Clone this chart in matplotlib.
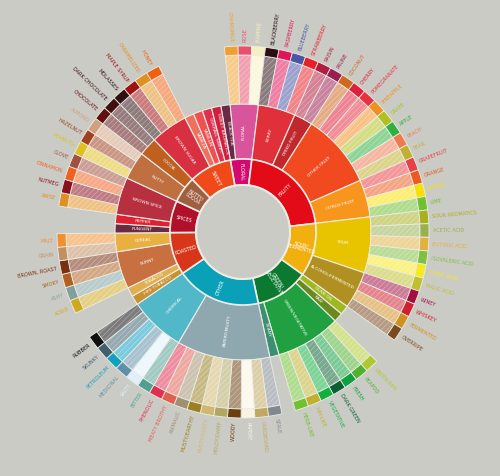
import numpy as np
import matplotlib
matplotlib.use("Agg")
import matplotlib.pyplot as plt
from matplotlib.patches import Wedge
from matplotlib.colors import to_rgb

# level 1: (name, colour)
tier1 = [
    ("FLORAL", "#d4086e"), ("FRUITY", "#e30b17"), ("SOUR/\nFERMENTED", "#f2b00f"),
    ("GREEN/\nVEGETATIVE", "#0b7a30"), ("OTHER", "#0aa0b8"), ("ROASTED", "#d8361a"),
    ("SPICES", "#b0102a"), ("NUTTY/\nCOCOA", "#a06040"), ("SWEET", "#f04a1a"),
]
# level 2: (name, parent, colour)
tier2 = [
    ("BLACK TEA", "FLORAL", "#6b2a48"), ("FLORAL", "FLORAL", "#d9549a"),
    ("BERRY", "FRUITY", "#e0303a"), ("DRIED FRUIT", "FRUITY", "#c0282e"),
    ("OTHER FRUIT", "FRUITY", "#f24a20"), ("CITRUS FRUIT", "FRUITY", "#f8951d"),
    ("SOUR", "SOUR/\nFERMENTED", "#e8c400"), ("ALCOHOL/FERMENTED", "SOUR/\nFERMENTED", "#b09020"),
    ("OLIVE OIL", "GREEN/\nVEGETATIVE", "#a0b820"), ("RAW", "GREEN/\nVEGETATIVE", "#6a8a20"),
    ("GREEN/VEGETATIVE", "GREEN/\nVEGETATIVE", "#20a040"), ("BEANY", "GREEN/\nVEGETATIVE", "#3a9070"),
    ("PAPERY/MUSTY", "OTHER", "#8fa8b0"), ("CHEMICAL", "OTHER", "#50b8c8"),
    ("PIPE TOBACCO", "ROASTED", "#c89030"), ("TOBACCO", "ROASTED", "#e0b050"),
    ("BURNT", "ROASTED", "#c87040"), ("CEREAL", "ROASTED", "#e8b040"),
    ("PUNGENT", "SPICES", "#6a2a40"), ("PEPPER", "SPICES", "#e02030"),
    ("BROWN SPICE", "SPICES", "#b83040"),
    ("NUTTY", "NUTTY/\nCOCOA", "#c07040"), ("COCOA", "NUTTY/\nCOCOA", "#c06020"),
    ("BROWN SUGAR", "SWEET", "#d83040"), ("VANILLA", "SWEET", "#f07060"),
    ("VANILLIN", "SWEET", "#f05050"), ("OVERALL SWEET", "SWEET", "#e03050"),
    ("SWEET AROMATICS", "SWEET", "#d02040"),
]
# level 3: (name, parent, colour)
tier3 = [
    ("CHAMOMILE", "FLORAL", "#f0a030"), ("ROSE", "FLORAL", "#e8506e"), ("JASMINE", "FLORAL", "#f5f0c0"),
    ("BLACKBERRY", "BERRY", "#2a0f14"), ("RASPBERRY", "BERRY", "#e0155a"),
    ("BLUEBERRY", "BERRY", "#4a56a8"), ("STRAWBERRY", "BERRY", "#e8202a"),
    ("RAISIN", "DRIED FRUIT", "#b01e40"), ("PRUNE", "DRIED FRUIT", "#9a1e50"),
    ("COCONUT", "OTHER FRUIT", "#d06820"), ("CHERRY", "OTHER FRUIT", "#e0203a"),
    ("POMEGRANATE", "OTHER FRUIT", "#e83040"), ("PINEAPPLE", "OTHER FRUIT", "#f09020"),
    ("GRAPE", "OTHER FRUIT", "#b0c020"), ("APPLE", "OTHER FRUIT", "#30b040"),
    ("PEACH", "OTHER FRUIT", "#f07a50"), ("PEAR", "OTHER FRUIT", "#c0b030"),
    ("GRAPEFRUIT", "CITRUS FRUIT", "#e84048"), ("ORANGE", "CITRUS FRUIT", "#ec5a20"),
    ("LEMON", "CITRUS FRUIT", "#f8e000"), ("LIME", "CITRUS FRUIT", "#70c030"),
    ("SOUR AROMATICS", "SOUR", "#a8b020"), ("ACETIC ACID", "SOUR", "#98b050"),
    ("BUTYRIC ACID", "SOUR", "#e0b040"), ("ISOVALERIC ACID", "SOUR", "#80c040"),
    ("CITRIC ACID", "SOUR", "#f8e820"), ("MALIC ACID", "SOUR", "#c0c030"),
    ("WINEY", "ALCOHOL/FERMENTED", "#a01040"), ("WHISKEY", "ALCOHOL/FERMENTED", "#d02030"),
    ("FERMENTED", "ALCOHOL/FERMENTED", "#d09020"), ("OVERRIPE", "ALCOHOL/FERMENTED", "#7a4a20"),
    ("UNDER-RIPE", "GREEN/VEGETATIVE", "#b0c830"), ("PEAPOD", "GREEN/VEGETATIVE", "#50b030"),
    ("FRESH", "GREEN/VEGETATIVE", "#10a040"), ("DARK GREEN", "GREEN/VEGETATIVE", "#0a6030"),
    ("VEGETATIVE", "GREEN/VEGETATIVE", "#10b040"), ("HAY-LIKE", "GREEN/VEGETATIVE", "#c0b030"),
    ("HERB-LIKE", "GREEN/VEGETATIVE", "#70c030"),
    ("STALE", "PAPERY/MUSTY", "#808890"), ("CARDBOARD", "PAPERY/MUSTY", "#c0a860"),
    ("PAPERY", "PAPERY/MUSTY", "#f8f4e0"), ("WOODY", "PAPERY/MUSTY", "#6a4010"),
    ("MOLDY/DAMP", "PAPERY/MUSTY", "#b0a860"), ("MUSTY/DUSTY", "PAPERY/MUSTY", "#d0b870"),
    ("MUSTY/EARTHY", "PAPERY/MUSTY", "#9a8020"), ("ANIMALIC", "PAPERY/MUSTY", "#a09070"),
    ("MEATY BROTHY", "PAPERY/MUSTY", "#e06050"), ("PHENOLIC", "PAPERY/MUSTY", "#e03050"),
    ("BITTER", "CHEMICAL", "#50a090"), ("SALTY", "CHEMICAL", "#e0f0f8"),
    ("MEDICINAL", "CHEMICAL", "#6090a8"), ("PETROLEUM", "CHEMICAL", "#10a0c0"),
    ("SKUNKY", "CHEMICAL", "#406070"), ("RUBBER", "CHEMICAL", "#101010"),
    ("ACRID", "BURNT", "#d0a820"), ("ASHY", "BURNT", "#80a0a0"),
    ("SMOKY", "BURNT", "#b06020"), ("BROWN, ROAST", "BURNT", "#7a3010"),
    ("GRAIN", "CEREAL", "#c09060"), ("MALT", "CEREAL", "#f09030"),
    ("ANISE", "BROWN SPICE", "#e09020"), ("NUTMEG", "BROWN SPICE", "#8a1020"),
    ("CINNAMON", "BROWN SPICE", "#f06020"), ("CLOVE", "BROWN SPICE", "#a05040"),
    ("PEANUTS", "NUTTY", "#e0c020"), ("HAZELNUT", "NUTTY", "#a04020"), ("ALMOND", "NUTTY", "#d0a080"),
    ("CHOCOLATE", "COCOA", "#601010"), ("DARK CHOCOLATE", "COCOA", "#401010"),
    ("MOLASSES", "BROWN SUGAR", "#301010"), ("MAPLE SYRUP", "BROWN SUGAR", "#a01010"),
    ("CARAMELIZED", "BROWN SUGAR", "#e09020"), ("HONEY", "BROWN SUGAR", "#f06010"),
]

BG = "#cbcbc5"
EDGE = "#ecece6"
cx, cy = 243, 244
R0, R1, R2, R3, R4 = 47, 73, 128, 177, 186
start = -10.0  # degrees clockwise from top

plt.rcParams["hatch.linewidth"] = 0.3


def tint(c, f=0.45):
    r = np.array(to_rgb(c))
    return tuple(r + (1 - r) * f)


fig = plt.figure(figsize=(5.0, 4.76), dpi=100)
fig.patch.set_facecolor(BG)
ax = fig.add_axes([0, 0, 1, 1])
ax.set_xlim(0, 500)
ax.set_ylim(0, 476)
ax.set_aspect("equal")
ax.axis("off")

# weights: each level-2 node counts its children, or 1 if none
kids = {}
for name, par, col in tier3:
    kids.setdefault(par, []).append((name, col))
w2 = [max(1, len(kids.get(n, []))) for n, p, c in tier2]
total = sum(w2)
deg = 360.0 / total


def radial_text(r, ang_cw, txt, col, size, inside=True):
    th = np.radians(90 - ang_cw)
    x, y = cx + r * np.cos(th), cy + r * np.sin(th)
    rot = 90 - ang_cw
    if 0 <= ang_cw % 360 <= 180:
        ha = "left"
    else:
        rot += 180
        ha = "right"
    if inside:
        ha = "center"
    ax.text(x, y, txt, rotation=rot, rotation_mode="anchor", ha=ha, va="center",
            fontsize=size, color=col, family="DejaVu Sans", linespacing=0.9)


def wedge(r_in, r_out, a0, a1, col, lw=0.8):
    ax.add_patch(Wedge((cx, cy), r_out, 90 - a1, 90 - a0, width=r_out - r_in,
                       facecolor=col, edgecolor=EDGE, linewidth=lw))


pos = start
spans1 = {}
for (name, par, col), w in zip(tier2, w2):
    a0, a1 = pos, pos + w * deg
    spans1.setdefault(par, [a0, a1])[1] = a1
    wedge(R1, R2, a0, a1, col)
    radial_text((R1 + R2) / 2, (a0 + a1) / 2, name, "white", 3.2)
    for i, (leaf, lc) in enumerate(kids.get(name, [])):
        b0, b1 = a0 + i * deg, a0 + (i + 1) * deg
        wedge(R2, R3, b0, b1, tint(lc), lw=0.6)
        ax.add_patch(Wedge((cx, cy), R3, 90 - b1, 90 - b0, width=R3 - R2,
                           facecolor="none", edgecolor=tint(lc, 0.75), hatch="//////", linewidth=0))
        wedge(R3, R4, b0, b1, lc, lw=0.6)
        radial_text(R4 + 4, (b0 + b1) / 2, leaf, lc, 3.6, inside=False)
    pos = a1

for name, col in tier1:
    a0, a1 = spans1[name]
    wedge(R0, R1, a0, a1, col, lw=1.2)
    radial_text((R0 + R1) / 2, (a0 + a1) / 2, name, "white", 3.4)

ax.add_patch(plt.Circle((cx, cy), R0, facecolor=BG, edgecolor=EDGE, linewidth=1.5))
fig.savefig("out.png", dpi=100, facecolor=BG)
